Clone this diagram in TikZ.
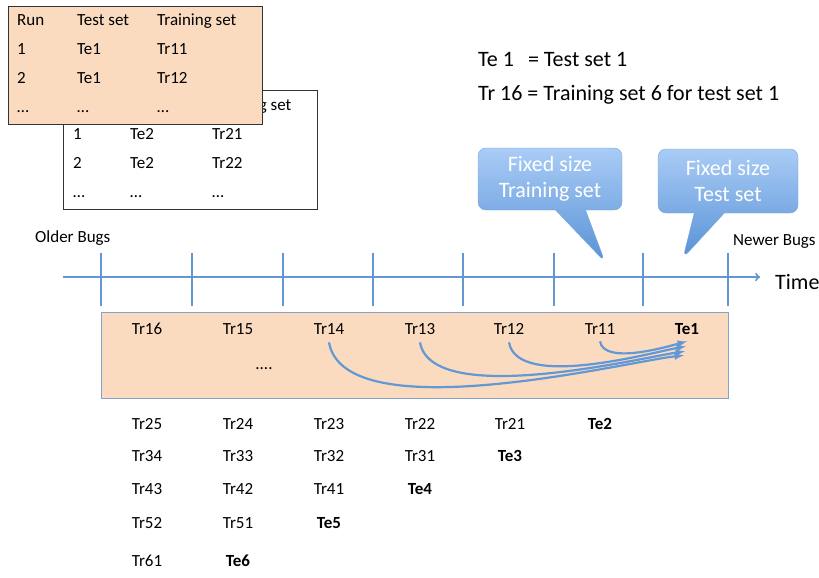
\documentclass[tikz,border=0pt]{standalone}
\usepackage{fontspec}
\setmainfont{Carlito}
\usepackage{tikz}
\usetikzlibrary{shapes.geometric, shapes.callouts, arrows, positioning, calc}

\definecolor{tlblue}{RGB}{100,150,208}
\definecolor{arrblue}{RGB}{98,152,214}
\definecolor{boxfill}{RGB}{251,219,192}
\definecolor{boxline}{RGB}{135,162,200}
\definecolor{cotop}{RGB}{170,204,246}
\definecolor{cobot}{RGB}{88,146,214}
\definecolor{coline}{RGB}{120,165,220}

\begin{document}
\begin{tikzpicture}[x=1pt, y=1pt,
  lbl/.style={font=\fontsize{17}{20}\selectfont, inner sep=0pt, text height=1.5ex, text depth=.25ex},
  tebl/.style={lbl, font=\fontsize{17}{20}\selectfont\bfseries},
  big/.style={font=\fontsize{22}{26}\selectfont, inner sep=0pt},
  tabbox/.style={draw=black!80, line width=0.8pt, anchor=north west, inner sep=0pt},
  tick/.style={draw=tlblue, line width=1.6pt},
  curvearr/.style={->, >=latex, draw=arrblue, line width=2.2pt},
  fixedbox/.style={rectangle callout, rounded corners=8pt, draw=coline, top color=cotop, bottom color=cobot,
    text=white, font=\fontsize{22}{26}\selectfont, align=center, callout pointer width=30pt}]
\useasboundingbox (0,0) rectangle (819,-578);

% Second table (behind)
\node[tabbox, fill=white, minimum width=254pt, minimum height=119pt] (tab2) at (63,-90) {};
\node[lbl, anchor=west] (t2h3) at (212,-108) {Training set};
\node[lbl, anchor=west] (t2a1) at (73,-137) {1};
\node[lbl, anchor=west] (t2a2) at (130,-137) {Te2};
\node[lbl, anchor=west] (t2a3) at (212,-137) {Tr21};
\node[lbl, anchor=west] (t2b1) at (73,-166) {2};
\node[lbl, anchor=west] (t2b2) at (130,-166) {Te2};
\node[lbl, anchor=west] (t2b3) at (212,-166) {Tr22};
\node[lbl, anchor=west] (t2c1) at (73,-195) {…};
\node[lbl, anchor=west] (t2c2) at (130,-195) {…};
\node[lbl, anchor=west] (t2c3) at (212,-195) {…};

% First table (front)
\node[tabbox, fill=boxfill, minimum width=254pt, minimum height=118pt] (tab1) at (8,-6) {};
\node[lbl, anchor=west] (t1h1) at (17,-23) {Run};
\node[lbl, anchor=west] (t1h2) at (77,-23) {Test set};
\node[lbl, anchor=west] (t1h3) at (157,-23) {Training set};
\node[lbl, anchor=west] (t1a1) at (17,-52) {1};
\node[lbl, anchor=west] (t1a2) at (77,-52) {Te1};
\node[lbl, anchor=west] (t1a3) at (157,-52) {Tr11};
\node[lbl, anchor=west] (t1b1) at (17,-81) {2};
\node[lbl, anchor=west] (t1b2) at (77,-81) {Te1};
\node[lbl, anchor=west] (t1b3) at (157,-81) {Tr12};
\node[lbl, anchor=west] (t1c1) at (17,-110) {…};
\node[lbl, anchor=west] (t1c2) at (77,-110) {…};
\node[lbl, anchor=west] (t1c3) at (157,-110) {…};

% Legend
\node[big, anchor=west] (leg1) at (478,-60) {Te 1\hspace{9pt} = Test set 1};
\node[big, anchor=west] (leg2) at (478,-95) {Tr 16 = Training set 6 for test set 1};

% Callouts
\node[fixedbox, minimum width=144pt, minimum height=62pt, callout absolute pointer={(605,-262)}] (fixtrain) at (550,-179) {Fixed size\\Training set};
\node[fixedbox, minimum width=140pt, minimum height=64pt, callout absolute pointer={(683,-258)}] (fixtest) at (728,-181) {Fixed size\\Test set};

% Time line
\node[lbl, anchor=west] (older) at (35,-240) {Older Bugs};
\node[lbl, anchor=west] (newer) at (733,-243) {Newer Bugs};
\node[big, anchor=west] (time) at (775,-282) {Time};
\coordinate (tstart) at (63,-277);
\coordinate (tend) at (760,-277);
\draw[->, draw=tlblue, line width=2pt] (tstart) -- (tend);
\draw[tick] (101,-253) -- (101,-306);
\draw[tick] (192,-253) -- (192,-306);
\draw[tick] (283,-253) -- (283,-306);
\draw[tick] (373,-253) -- (373,-306);
\draw[tick] (463,-253) -- (463,-306);
\draw[tick] (554,-253) -- (554,-306);
\draw[tick] (643,-253) -- (643,-306);
\draw[tick] (728,-253) -- (728,-306);

% Window of run 1
\node[draw=boxline, line width=1pt, fill=boxfill, minimum width=627pt, minimum height=86pt, anchor=north west] (window) at (101,-312) {};
\node[lbl] (tr16) at (147,-332) {Tr16};
\node[lbl] (tr15) at (238,-332) {Tr15};
\node[lbl] (tr14) at (329,-332) {Tr14};
\node[lbl] (tr13) at (420,-332) {Tr13};
\node[lbl] (tr12) at (509,-332) {Tr12};
\node[lbl] (tr11) at (600,-332) {Tr11};
\node[tebl] (te1) at (687,-332) {Te1};
\node[lbl] (more) at (264,-367) {....};

% Training sets to test set
\draw[curvearr] ([yshift=-5pt]tr11.south) to[out=-80, in=195, looseness=0.7] ([yshift=-5pt]te1.south);
\draw[curvearr] ([yshift=-6pt]tr12.south) to[out=-80, in=190, out looseness=0.7, in looseness=0.5] ([xshift=-1pt,yshift=-10pt]te1.south);
\draw[curvearr] ([yshift=-6pt]tr13.south) to[out=-80, in=188, out looseness=0.65, in looseness=0.4] ([xshift=-2pt,yshift=-15pt]te1.south);
\draw[curvearr] ([yshift=-6pt]tr14.south) to[out=-80, in=186, out looseness=0.65, in looseness=0.4] ([xshift=-3pt,yshift=-19pt]te1.south);

% Later runs
\node[lbl] (tr25) at (147,-427) {Tr25};
\node[lbl] (tr24) at (238,-427) {Tr24};
\node[lbl] (tr23) at (329,-427) {Tr23};
\node[lbl] (tr22) at (420,-427) {Tr22};
\node[lbl] (tr21) at (510,-427) {Tr21};
\node[tebl] (te2) at (600,-427) {Te2};
\node[lbl] (tr34) at (147,-459) {Tr34};
\node[lbl] (tr33) at (238,-459) {Tr33};
\node[lbl] (tr32) at (329,-459) {Tr32};
\node[lbl] (tr31) at (420,-459) {Tr31};
\node[tebl] (te3) at (510,-459) {Te3};
\node[lbl] (tr43) at (147,-492) {Tr43};
\node[lbl] (tr42) at (238,-492) {Tr42};
\node[lbl] (tr41) at (329,-492) {Tr41};
\node[tebl] (te4) at (420,-492) {Te4};
\node[lbl] (tr52) at (147,-526) {Tr52};
\node[lbl] (tr51) at (238,-526) {Tr51};
\node[tebl] (te5) at (329,-526) {Te5};
\node[lbl] (tr61) at (147,-564) {Tr61};
\node[tebl] (te6) at (238,-564) {Te6};

\end{tikzpicture}
\end{document}
